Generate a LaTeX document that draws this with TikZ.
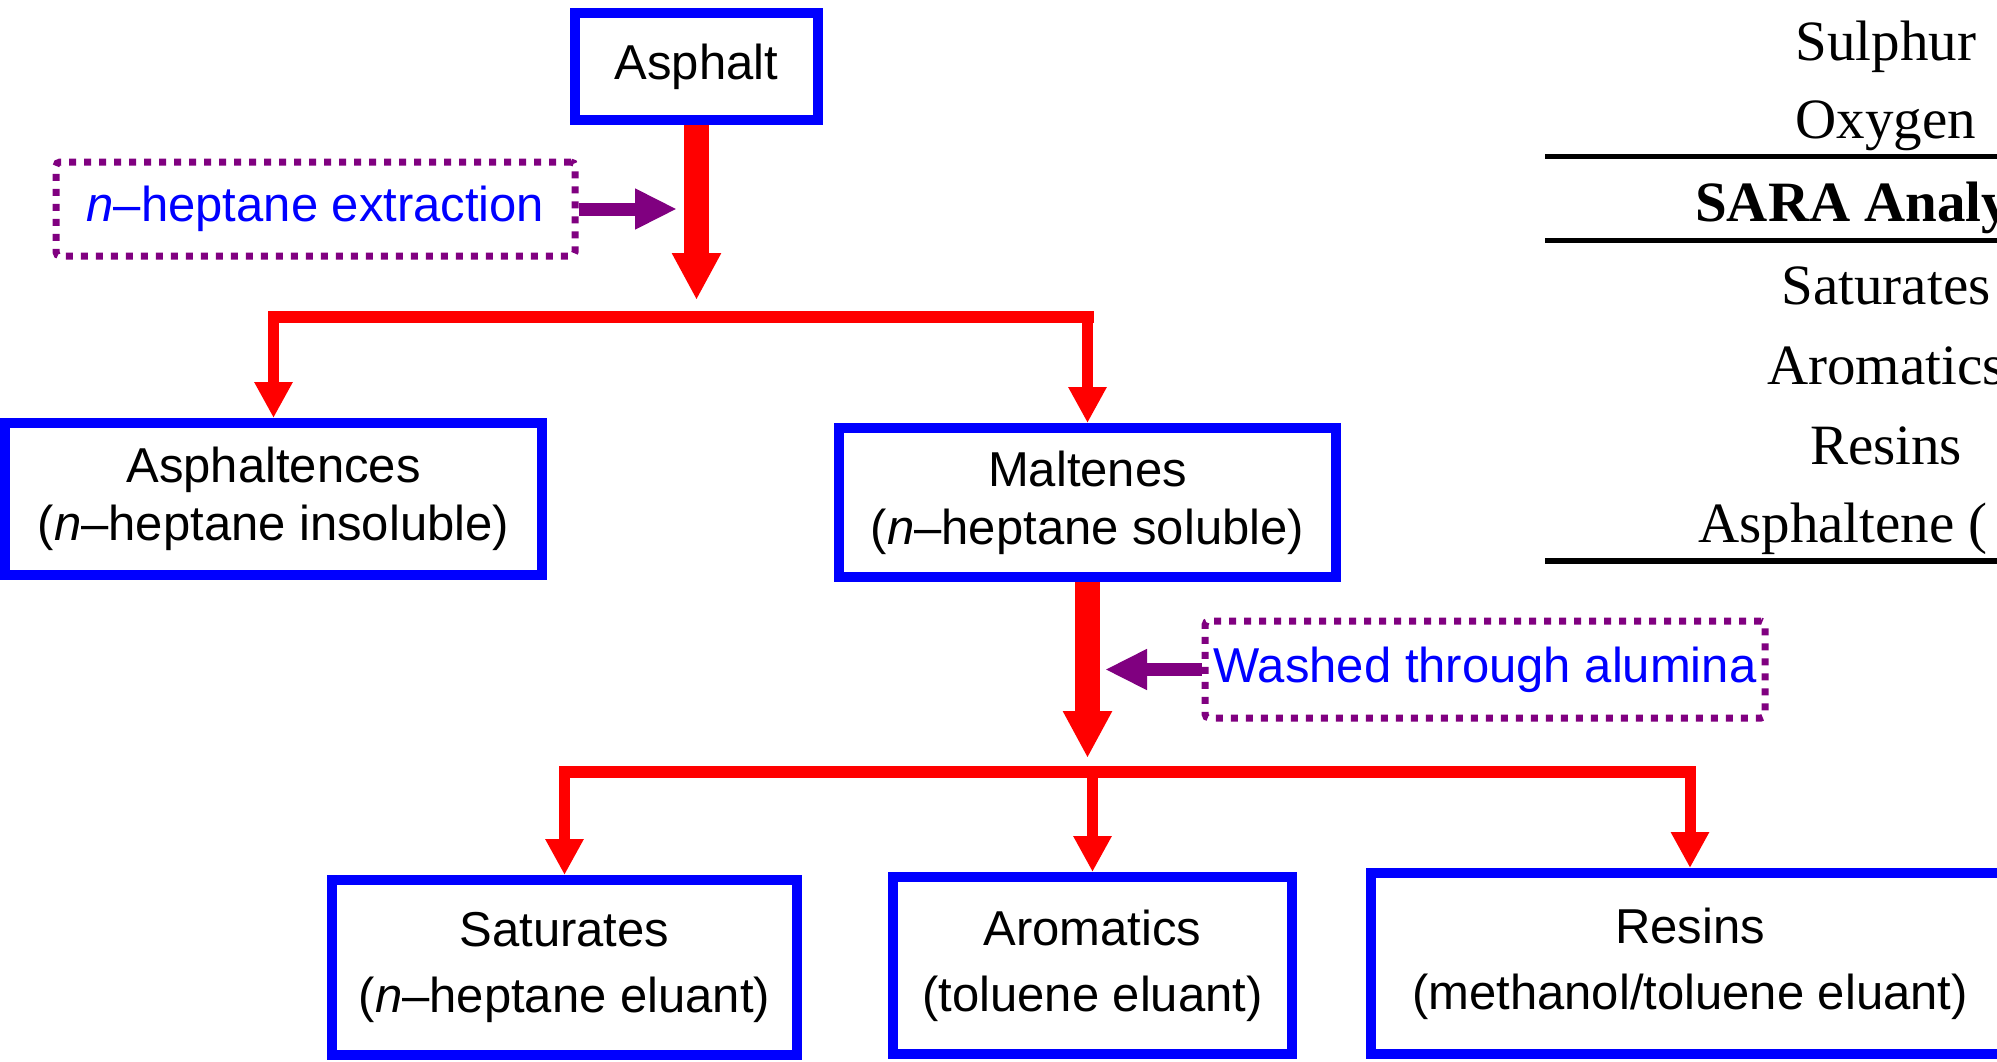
\documentclass[tikz,border=0pt]{standalone}
\usepackage{fontspec}
\setmainfont{Liberation Sans}
\newfontfamily\serifface{Liberation Serif}
\usetikzlibrary{arrows.meta}
\definecolor{bxblue}{RGB}{0,0,255}
\definecolor{arred}{RGB}{255,0,0}
\definecolor{dotpurple}{RGB}{128,0,128}
\begin{document}
\begin{tikzpicture}[x=1pt,y=-1pt,
  box/.style={draw=bxblue, line width=10pt, fill=white, align=center, inner sep=0pt, font=\fontsize{49}{58}\selectfont},
  lowbox/.style={box, font=\fontsize{49}{66}\selectfont},
  dotbox/.style={draw=dotpurple, line width=7pt, dash pattern=on 7pt off 8pt, rounded corners=4pt, text=bxblue, inner sep=0pt, font=\fontsize{49}{58}\selectfont},
  mainflow/.style={draw=arred, line width=25pt, -{Triangle[length=47pt,width=46pt]}},
  branch/.style={draw=arred, line width=12pt, line cap=rect},
  drop/.style={draw=arred, line width=11pt, -{Triangle[length=36pt,width=36pt]}},
  hint/.style={draw=dotpurple, line width=13pt, -{Triangle[length=42pt,width=38pt]}},
  rule/.style={draw=black, line width=5pt},
  cell/.style={anchor=base, inner sep=0pt, font=\serifface\fontsize{57}{60}\selectfont},
]
\useasboundingbox (0,0) rectangle (1997,1061);
\clip (0,0) rectangle (1997,1061);
\fill[white] (0,0) rectangle (1997,1061);

% boxes
\node[box, minimum width=243pt, minimum height=107pt] (asphalt) at (696.5,66.5) {Asphalt};
\node[box, minimum width=537pt, minimum height=152pt] (asph) at (273.5,499) {Asphaltences\\({\itshape n}–heptane insoluble)};
\node[box, minimum width=497pt, minimum height=149pt] (malt) at (1087.5,502.5) {Maltenes\\({\itshape n}–heptane soluble)};
\node[lowbox, minimum width=465pt, minimum height=175pt] (sat) at (564.5,967.5) {Saturates\\({\itshape n}–heptane eluant)};
\node[lowbox, minimum width=399pt, minimum height=177pt] (aro) at (1092.5,965.5) {Aromatics\\(toluene eluant)};
\node[lowbox, minimum width=638pt, minimum height=181pt] (res) at (1690,963.5) {Resins\\(methanol/toluene eluant)};

% dotted notes
\node[dotbox, minimum width=519pt, minimum height=94pt] (ext) at (315.5,209) {{\itshape n}–heptane extraction};
\node[dotbox, minimum width=560pt, minimum height=97pt] (wash) at (1485,669.5) {Washed through alumina};

% first stage
\coordinate (lvl1) at (0,317);
\coordinate (tip1) at (696.5,300);
\draw[mainflow] (asphalt.south) -- (tip1);
\draw[branch] (asph.north |- lvl1) -- (malt.north |- lvl1);
\draw[drop] (asph.north |- lvl1) -- (asph.north);
\draw[drop] (malt.north |- lvl1) -- (malt.north);
\coordinate (hint1) at (677,209);
\draw[hint] (ext.east) -- (hint1);

% second stage
\coordinate (lvl2) at (0,772);
\coordinate (tip2) at (1087.5,758);
\draw[mainflow] (malt.south) -- (tip2);
\draw[branch] (sat.north |- lvl2) -- (res.north |- lvl2);
\draw[drop] (sat.north |- lvl2) -- (sat.north);
\draw[drop] (aro.north |- lvl2) -- (aro.north);
\draw[drop] (res.north |- lvl2) -- (res.north);
\coordinate (hint2) at (1105,669.5);
\draw[hint] (wash.west) -- (hint2);

% table fragment
\draw[rule] (1545,156) -- (2000,156);
\draw[rule] (1545,240) -- (2000,240);
\draw[rule, line width=6pt] (1545,561) -- (2000,561);
\node[cell] (tSul) at (1886,60) {Sulphur};
\node[cell] (tOxy) at (1886,138) {Oxygen};
\node[cell, anchor=base west, font=\serifface\bfseries\fontsize{57}{60}\selectfont] (tSara) at (1695,221) {SARA Analy};
\node[cell] (tSat) at (1886,304) {Saturates};
\node[cell] (tAro) at (1886,384) {Aromatics};
\node[cell] (tRes) at (1886,464) {Resins};
\node[cell, anchor=base west] (tAsp) at (1698,542) {Asphaltene (};
\end{tikzpicture}
\end{document}
